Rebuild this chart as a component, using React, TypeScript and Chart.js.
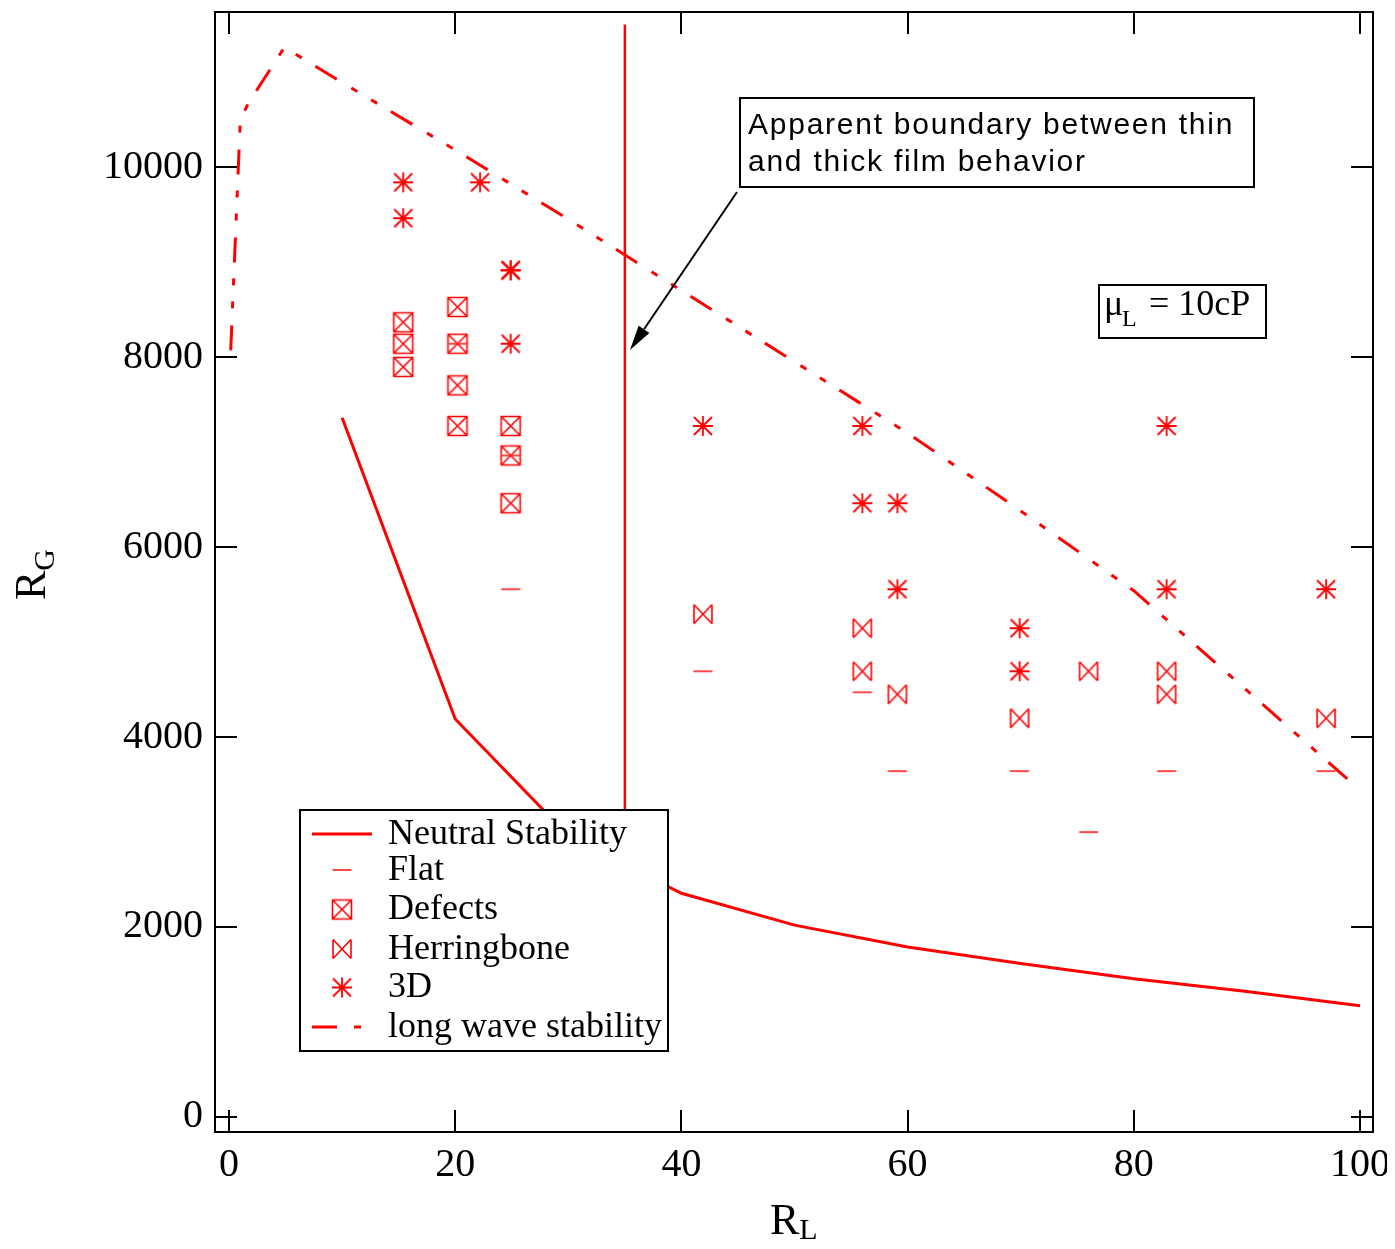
import React, { useEffect, useRef } from 'react';
import { Chart, registerables } from 'chart.js';

Chart.register(...registerables);

// ---------- data ----------
const xTicks = [0, 20, 40, 60, 80, 100];
const yTicks = [0, 2000, 4000, 6000, 8000, 10000];

const neutralX = [10, 20, 30, 40, 50, 60, 70, 80, 90, 100];
const neutralY = [7360, 4190, 2960, 2355, 2020, 1790, 1615, 1455, 1320, 1170];

const longWaveX = [0.15, 1, 1.7, 4.9, 10, 20, 30, 40, 50, 60, 70, 80, 90, 100];
const longWaveY = [8070, 10500, 10670, 11260, 10890, 10180, 9450, 8700, 7950, 7200, 6380, 5540, 4490, 3440];

const boundaryX = [35, 35];
const boundaryY = [3000, 11500];

const flatX = [20.2, 24.9, 24.9, 41.9, 56.0, 59.1, 69.9, 76.0, 82.9, 97.0];
const flatY = [8140, 6964, 5556, 4692, 4471, 3641, 3641, 2999, 3641, 3641];

const defectsX = [15.4, 15.4, 15.4, 20.2, 20.2, 20.2, 20.2, 24.9, 24.9, 24.9];
const defectsY = [8366, 8140, 7896, 8527, 8140, 7702, 7274, 7274, 6964, 6461];

const herringX = [41.9, 56.0, 56.0, 59.1, 69.9, 76.0, 82.9, 82.9, 97.0];
const herringY = [5293, 5145, 4692, 4450, 4197, 4692, 4692, 4450, 4197];

const star3dX = [15.4, 15.4, 22.2, 24.9, 24.9, 24.9, 41.9, 56.0, 56.0, 59.1, 59.1, 69.9, 69.9, 82.9, 82.9, 97.0];
const star3dY = [9839, 9461, 9839, 8913, 8913, 8140, 7274, 7274, 6461, 6461, 5556, 5145, 4692, 7274, 5556, 5556];

const legendLabels = ['Neutral Stability', 'Flat', 'Defects', 'Herringbone', '3D', 'long wave stability'];

const RED = '#ff0000';
const SERIF = '"Liberation Serif", "Times New Roman", serif';
const SANS = '"Liberation Sans", Arial, sans-serif';

const CANVAS_W = 1379;
const CANVAS_H = 1241;

const pts = (xs: number[], ys: number[]) => xs.map((x, i) => ({ x, y: ys[i] }));

function makeMarker(kind: string): HTMLCanvasElement {
  const c = document.createElement('canvas');
  c.width = 24;
  c.height = 24;
  const g = c.getContext('2d')!;
  g.strokeStyle = RED;
  g.lineWidth = 1.6;
  g.beginPath();
  if (kind === 'defects') {
    g.rect(2.5, 2.5, 19, 19);
    g.moveTo(2.5, 2.5); g.lineTo(21.5, 21.5);
    g.moveTo(21.5, 2.5); g.lineTo(2.5, 21.5);
  } else if (kind === 'herring') {
    g.moveTo(3, 2.5); g.lineTo(3, 21.5);
    g.moveTo(21, 2.5); g.lineTo(21, 21.5);
    g.moveTo(3, 2.5); g.lineTo(21, 21.5);
    g.moveTo(21, 2.5); g.lineTo(3, 21.5);
  } else if (kind === 'star') {
    g.lineWidth = 1.8;
    g.moveTo(12, 2); g.lineTo(12, 22);
    g.moveTo(2, 12); g.lineTo(22, 12);
    g.moveTo(3, 3); g.lineTo(21, 21);
    g.moveTo(21, 3); g.lineTo(3, 21);
  } else {
    g.strokeStyle = 'rgba(255,40,40,0.85)';
    g.lineWidth = 2;
    g.moveTo(2.5, 12); g.lineTo(21.5, 12);
  }
  g.stroke();
  return c;
}

export default function App() {
  const ref = useRef<HTMLCanvasElement>(null);

  useEffect(() => {
    const mFlat = makeMarker('flat');
    const mDef = makeMarker('defects');
    const mHer = makeMarker('herring');
    const mStar = makeMarker('star');

    const decor = {
      id: 'decor',
      afterDatasetsDraw(chart: any) {
        const { ctx, chartArea: a, scales } = chart;
        const xs = scales.x;
        const ys = scales.y;
        ctx.save();
        // frame
        ctx.strokeStyle = '#000';
        ctx.lineWidth = 2;
        ctx.setLineDash([]);
        ctx.strokeRect(a.left, a.top, a.right - a.left, a.bottom - a.top);
        // inward ticks
        const T = 22;
        ctx.beginPath();
        for (const v of xTicks) {
          const p = Math.round(xs.getPixelForValue(v));
          ctx.moveTo(p, a.bottom); ctx.lineTo(p, a.bottom - T);
          ctx.moveTo(p, a.top); ctx.lineTo(p, a.top + T);
        }
        for (const v of yTicks) {
          const p = Math.round(ys.getPixelForValue(v));
          ctx.moveTo(a.left, p); ctx.lineTo(a.left + T, p);
          ctx.moveTo(a.right, p); ctx.lineTo(a.right - T, p);
        }
        ctx.stroke();

        // legend box
        const L = { l: 292, t: 802, r: 660, b: 1043 };
        ctx.fillStyle = '#fff';
        ctx.fillRect(L.l, L.t, L.r - L.l, L.b - L.t);
        ctx.strokeStyle = '#000';
        ctx.lineWidth = 2;
        ctx.strokeRect(L.l, L.t, L.r - L.l, L.b - L.t);
        const centers = [826, 862, 901.5, 941, 979.5, 1019];
        const symX = 334;
        ctx.font = '36px ' + SERIF;
        ctx.fillStyle = '#000';
        ctx.textAlign = 'left';
        ctx.textBaseline = 'alphabetic';
        legendLabels.forEach((lab, i) => {
          const cy = centers[i];
          ctx.fillText(lab, 380, cy + 9.5);
          if (i === 0 || i === 5) {
            ctx.save();
            ctx.strokeStyle = RED;
            ctx.lineWidth = 3;
            ctx.setLineDash(i === 5 ? [25, 17, 7, 16] : []);
            ctx.beginPath();
            ctx.moveTo(304, cy);
            ctx.lineTo(364, cy);
            ctx.stroke();
            ctx.restore();
          } else {
            const m = [null, mFlat, mDef, mHer, mStar][i] as HTMLCanvasElement;
            ctx.drawImage(m, symX - 12, cy - 12);
          }
        });

        // annotation box
        ctx.lineWidth = 2;
        ctx.strokeStyle = '#000';
        ctx.fillStyle = '#fff';
        ctx.fillRect(732, 90, 514, 89);
        ctx.strokeRect(732, 90, 514, 89);
        ctx.fillStyle = '#000';
        ctx.font = '30px ' + SANS;
        (ctx as any).letterSpacing = '1.75px';
        ctx.fillText('Apparent boundary between thin', 740, 126);
        ctx.fillText('and thick film behavior', 740, 163);
        (ctx as any).letterSpacing = '0px';

        // arrow
        const x0 = 729, y0 = 184, x1 = 622, y1 = 342;
        const ang = Math.atan2(y1 - y0, x1 - x0);
        const hl = 25, hw = 6.5;
        const bx = x1 - hl * Math.cos(ang), by = y1 - hl * Math.sin(ang);
        ctx.beginPath();
        ctx.moveTo(x0, y0);
        ctx.lineTo(bx, by);
        ctx.lineWidth = 2;
        ctx.stroke();
        ctx.beginPath();
        ctx.moveTo(x1, y1);
        ctx.lineTo(bx + hw * Math.sin(ang), by - hw * Math.cos(ang));
        ctx.lineTo(bx - hw * Math.sin(ang), by + hw * Math.cos(ang));
        ctx.closePath();
        ctx.fill();

        // mu box
        ctx.fillStyle = '#fff';
        ctx.fillRect(1091, 277, 167, 53);
        ctx.strokeRect(1091, 277, 167, 53);
        ctx.fillStyle = '#000';
        ctx.font = '36px ' + SERIF;
        ctx.fillText('\u03bc', 1096, 307);
        ctx.font = '24px ' + SERIF;
        ctx.fillText('L', 1114, 318);
        ctx.font = '36px ' + SERIF;
        ctx.fillText('= 10cP', 1141, 307);

        // x title
        ctx.font = '44px ' + SERIF;
        ctx.fillText('R', 762, 1226);
        const rw = ctx.measureText('R').width;
        ctx.font = '30px ' + SERIF;
        ctx.fillText('L', 762 + rw, 1231);

        // y title
        ctx.save();
        ctx.translate(37, 592);
        ctx.rotate(-Math.PI / 2);
        ctx.font = '44px ' + SERIF;
        ctx.fillText('R', 0, 0);
        const rw2 = ctx.measureText('R').width;
        ctx.font = '30px ' + SERIF;
        ctx.fillText('G', rw2, 9);
        ctx.restore();

        ctx.restore();
      },
    };

    const xTickFont = { family: SERIF, size: 40 };
    const yTickFont = { family: SERIF, size: 40, lineHeight: 0.2 };

    const chart = new Chart(ref.current!, {
      type: 'scatter',
      data: {
        datasets: [
          { label: 'Neutral Stability', data: pts(neutralX, neutralY), showLine: true, borderColor: RED, borderWidth: 3, pointRadius: 0, fill: false },
          { label: 'boundary', data: pts(boundaryX, boundaryY), showLine: true, borderColor: RED, borderWidth: 2.5, pointRadius: 0, fill: false },
          { label: 'long wave stability', data: pts(longWaveX, longWaveY), showLine: true, borderColor: RED, borderWidth: 3, borderDash: [25, 17, 7, 16, 7, 16], pointRadius: 0, fill: false },
          { label: 'Flat', data: pts(flatX, flatY), pointStyle: mFlat, pointRadius: 10, showLine: false },
          { label: 'Defects', data: pts(defectsX, defectsY), pointStyle: mDef, pointRadius: 10, showLine: false },
          { label: 'Herringbone', data: pts(herringX, herringY), pointStyle: mHer, pointRadius: 10, showLine: false },
          { label: '3D', data: pts(star3dX, star3dY), pointStyle: mStar, pointRadius: 10, showLine: false },
        ] as any,
      },
      options: {
        animation: false,
        responsive: false,
        devicePixelRatio: 1,
        layout: { autoPadding: false, padding: { top: 4, right: 14, left: 0, bottom: 0 } },
        plugins: { legend: { display: false }, tooltip: { enabled: false } },
        scales: {
          x: {
            type: 'linear',
            min: -1.24,
            max: 101.15,
            afterBuildTicks: (s: any) => { s.ticks = xTicks.map((v) => ({ value: v })); },
            afterFit: (s: any) => { s.height = CANVAS_H - 1124; s.paddingLeft = 0; s.paddingRight = 0; s.paddingTop = 0; s.paddingBottom = 0; },
            grid: { display: false, drawTicks: false },
            border: { display: false },
            ticks: { font: xTickFont, color: '#000', padding: 9, maxRotation: 0, autoSkip: false, callback: (v: any) => String(v) },
          },
          y: {
            type: 'linear',
            min: -158,
            max: 11632,
            afterBuildTicks: (s: any) => { s.ticks = yTicks.map((v) => ({ value: v })); },
            afterFit: (s: any) => { s.width = 207; s.paddingTop = 0; s.paddingBottom = 0; s.paddingLeft = 0; s.paddingRight = 0; },
            grid: { display: false, drawTicks: false },
            border: { display: false },
            ticks: { font: yTickFont, color: '#000', padding: 12, autoSkip: false, callback: (v: any) => String(v) },
          },
        },
      },
      plugins: [decor],
    } as any);
    return () => chart.destroy();
  }, []);

  return (
    <div style={{ width: CANVAS_W, height: CANVAS_H, marginBottom: -8 }}>
      <canvas ref={ref} width={CANVAS_W} height={CANVAS_H} style={{ display: 'block' }} />
    </div>
  );
}
